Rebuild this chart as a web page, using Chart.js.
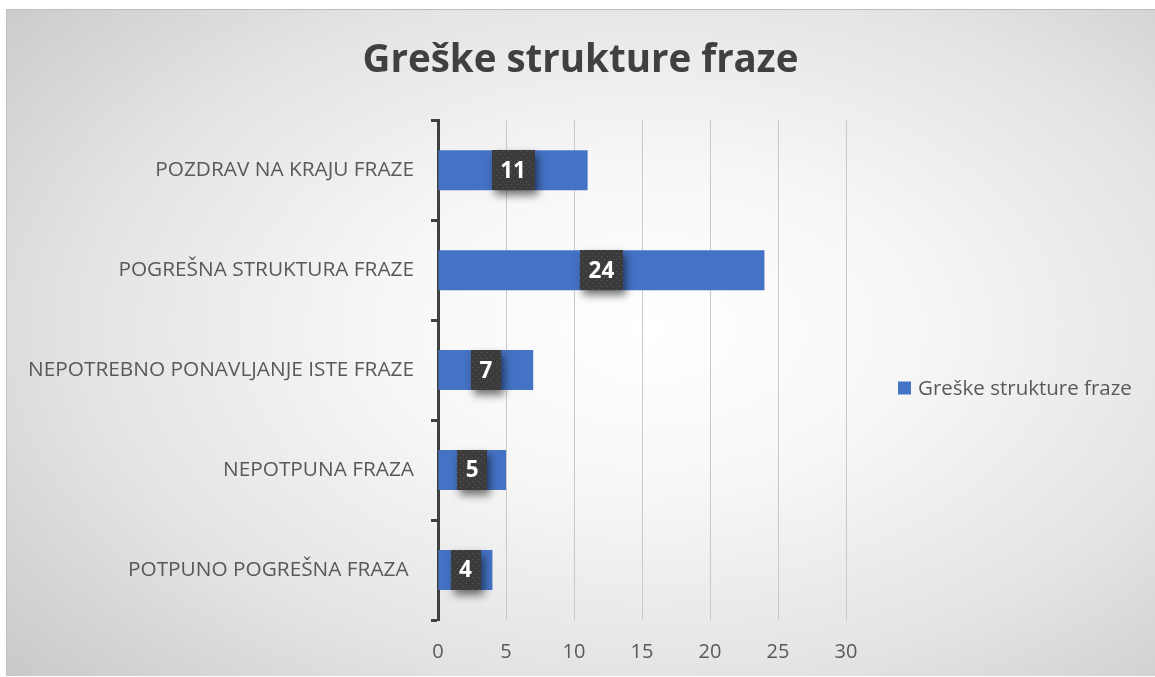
<!DOCTYPE html>
<html>
<head>
<meta charset="utf-8">
<script src="https://cdn.jsdelivr.net/npm/chart.js@4.4.1/dist/chart.umd.min.js"></script>
<style>
  html, body { margin: 0; padding: 0; background: #ffffff; width: 1155px; height: 677px; overflow: hidden; }
  #frame {
    position: absolute; left: 6px; top: 9px; width: 1149px; height: 667px;
    background: radial-gradient(ellipse 75% 80% at 56% 48%, #ffffff 0%, #f7f7f7 30%, #e4e4e4 65%, #c8c8c8 100%);
    box-shadow: inset 0 1px 0 #bdbdbd, inset 1px 0 0 #c0c0c0;
  }
  canvas { display: block; }
</style>
</head>
<body>
<div id="frame"><canvas id="c" width="1149" height="667"></canvas></div>
<script>
// ---- data ----
const chartTitle = 'Greške strukture fraze';
const seriesName = 'Greške strukture fraze';
const categories = [
  'POZDRAV NA KRAJU FRAZE',
  'POGREŠNA STRUKTURA FRAZE',
  'NEPOTREBNO PONAVLJANJE ISTE FRAZE',
  'NEPOTPUNA FRAZA',
  'POTPUNO POGREŠNA FRAZA '
];
const values = [11, 24, 7, 5, 4];
const axisMin = 0;
const axisMax = 30;
const axisStep = 5;

const FONT = "'Open Sans', 'DejaVu Sans', sans-serif";
const BAR_COLOR = '#4472C4';
const TEXT_COLOR = '#595959';

function makePattern(ctx) {
  const p = document.createElement('canvas');
  p.width = 6; p.height = 6;
  const pc = p.getContext('2d');
  pc.fillStyle = '#3b3b3b';
  pc.fillRect(0, 0, 6, 6);
  pc.fillStyle = '#585858';
  pc.fillRect(1, 1, 1, 1);
  pc.fillRect(4, 4, 1, 1);
  return ctx.createPattern(p, 'repeat');
}

const labelBoxes = {
  id: 'labelBoxes',
  afterDatasetsDraw(chart) {
    const ctx = chart.ctx;
    const meta = chart.getDatasetMeta(0);
    const pattern = makePattern(ctx);
    ctx.save();
    ctx.font = "bold 22.5px " + FONT;
    meta.data.forEach((el, i) => {
      const p = el.getProps(['x', 'y', 'base', 'height'], true);
      const cx = (p.x + p.base) / 2;
      const txt = String(chart.data.datasets[0].data[i]);
      const tw = ctx.measureText(txt).width;
      const w = tw + 17;
      const h = p.height;
      ctx.save();
      ctx.shadowColor = 'rgba(0,0,0,0.55)';
      ctx.shadowBlur = 9;
      ctx.shadowOffsetX = 3;
      ctx.shadowOffsetY = 5;
      ctx.fillStyle = pattern;
      ctx.fillRect(Math.round(cx - w / 2), Math.round(p.y - h / 2), Math.round(w), Math.round(h));
      ctx.restore();
      ctx.fillStyle = '#ffffff';
      ctx.textAlign = 'center';
      ctx.textBaseline = 'middle';
      ctx.fillText(txt, cx, p.y + 1);
    });
    ctx.restore();
  }
};

const sideLegend = {
  id: 'sideLegend',
  afterDraw(chart) {
    const ctx = chart.ctx;
    const ds = chart.data.datasets[0];
    const x = chart.chartArea.right + 52;
    const y = 379;
    ctx.save();
    ctx.fillStyle = ds.backgroundColor;
    ctx.fillRect(x, y - 6.5, 13, 13);
    ctx.fillStyle = TEXT_COLOR;
    ctx.font = "20.5px " + FONT;
    ctx.textAlign = 'left';
    ctx.textBaseline = 'middle';
    ctx.fillText(ds.label, x + 20, y + 1);
    ctx.restore();
  }
};

function build() {
  new Chart(document.getElementById('c'), {
    type: 'bar',
    data: {
      labels: categories,
      datasets: [{
        label: seriesName,
        data: values,
        backgroundColor: BAR_COLOR,
        borderWidth: 0,
        barPercentage: 0.4,
        categoryPercentage: 1.0
      }]
    },
    options: {
      indexAxis: 'y',
      responsive: false,
      animation: false,
      layout: { padding: 0 },
      plugins: {
        legend: { display: false },
        tooltip: { enabled: false },
        title: {
          display: true,
          text: chartTitle,
          color: '#404040',
          font: { family: FONT, size: 38.5, weight: 'bold', lineHeight: 1.2 },
          padding: { top: 29, bottom: 36 }
        }
      },
      scales: {
        x: {
          min: axisMin,
          max: axisMax,
          afterFit(s) { s.height = 56; },
          ticks: {
            stepSize: axisStep,
            color: TEXT_COLOR,
            font: { family: FONT, size: 20 },
            padding: 20
          },
          grid: { color: '#c9c9c9', lineWidth: 1, drawTicks: false },
          border: { display: false }
        },
        y: {
          afterFit(s) { s.width = 432; },
          ticks: {
            color: TEXT_COLOR,
            font: { family: FONT, size: 20.8 },
            padding: 17
          },
          grid: {
            offset: true,
            drawOnChartArea: false,
            drawTicks: true,
            tickLength: 7,
            tickColor: '#404040',
            tickWidth: 3,
            color: '#404040'
          },
          border: { display: true, color: '#404040', width: 3 }
        },
        legendSpace: {
          type: 'category',
          axis: 'y',
          position: 'right',
          afterFit(s) { s.width = 309; },
          ticks: { display: false },
          grid: { display: false },
          border: { display: false }
        }
      }
    },
    plugins: [labelBoxes, sideLegend]
  });
}

Promise.all([
  document.fonts.load("17px 'Open Sans'"),
  document.fonts.load("bold 20px 'Open Sans'")
]).then(build, build);
</script>
</body>
</html>
